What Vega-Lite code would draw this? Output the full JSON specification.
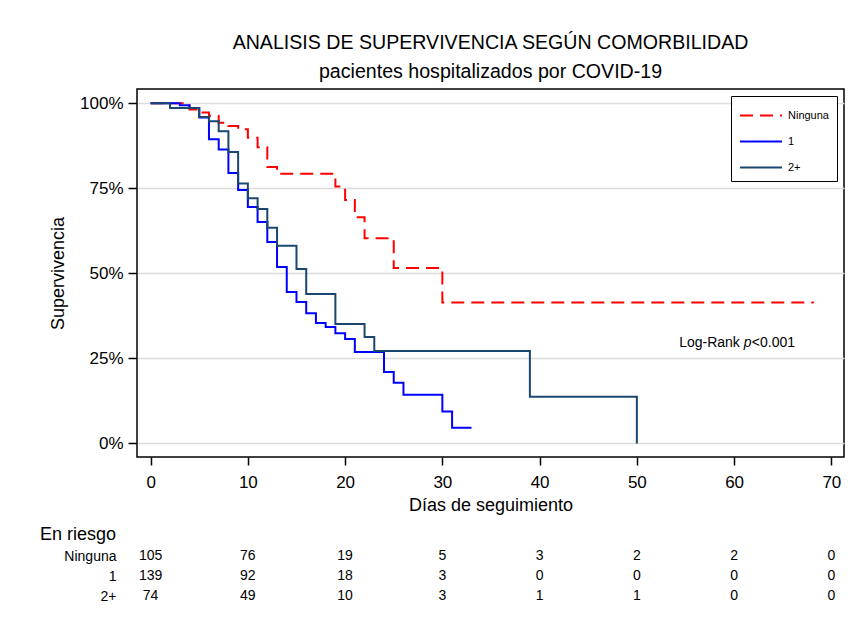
{
  "$schema": "https://vega.github.io/schema/vega-lite/v6.json",
  "background": "white",
  "padding": {"left": 40, "top": 32, "right": 5, "bottom": 5},
  "config": {
    "font": "Liberation Sans",
    "view": {"stroke": null},
    "axis": {"labelColor": "black", "titleColor": "black", "tickColor": "black", "domainColor": "black", "labelFont": "Liberation Sans", "titleFont": "Liberation Sans", "titleFontWeight": "normal"},
    "legend": {"labelFont": "Liberation Sans"}
  },
  "datasets": {
    "km": [
      {"group": "Ninguna", "day": 0, "surv": 1.0},
      {"group": "Ninguna", "day": 4, "surv": 0.982},
      {"group": "Ninguna", "day": 5, "surv": 0.973},
      {"group": "Ninguna", "day": 6, "surv": 0.963},
      {"group": "Ninguna", "day": 7, "surv": 0.943},
      {"group": "Ninguna", "day": 8, "surv": 0.933},
      {"group": "Ninguna", "day": 9, "surv": 0.924},
      {"group": "Ninguna", "day": 10, "surv": 0.899},
      {"group": "Ninguna", "day": 11, "surv": 0.871},
      {"group": "Ninguna", "day": 12, "surv": 0.813},
      {"group": "Ninguna", "day": 13, "surv": 0.793},
      {"group": "Ninguna", "day": 19, "surv": 0.755},
      {"group": "Ninguna", "day": 20, "surv": 0.716},
      {"group": "Ninguna", "day": 21, "surv": 0.665},
      {"group": "Ninguna", "day": 22, "surv": 0.603},
      {"group": "Ninguna", "day": 25, "surv": 0.516},
      {"group": "Ninguna", "day": 30, "surv": 0.414},
      {"group": "Ninguna", "day": 68.2, "surv": 0.414},
      {"group": "1", "day": 0, "surv": 1.0},
      {"group": "1", "day": 3, "surv": 0.994},
      {"group": "1", "day": 4, "surv": 0.986},
      {"group": "1", "day": 5, "surv": 0.958},
      {"group": "1", "day": 6, "surv": 0.894},
      {"group": "1", "day": 7, "surv": 0.864},
      {"group": "1", "day": 8, "surv": 0.795},
      {"group": "1", "day": 9, "surv": 0.745},
      {"group": "1", "day": 10, "surv": 0.695},
      {"group": "1", "day": 11, "surv": 0.651},
      {"group": "1", "day": 12, "surv": 0.592},
      {"group": "1", "day": 13, "surv": 0.519},
      {"group": "1", "day": 14, "surv": 0.445},
      {"group": "1", "day": 15, "surv": 0.416},
      {"group": "1", "day": 16, "surv": 0.383},
      {"group": "1", "day": 17, "surv": 0.354},
      {"group": "1", "day": 18, "surv": 0.342},
      {"group": "1", "day": 19, "surv": 0.324},
      {"group": "1", "day": 20, "surv": 0.307},
      {"group": "1", "day": 21, "surv": 0.269},
      {"group": "1", "day": 24, "surv": 0.21},
      {"group": "1", "day": 25, "surv": 0.178},
      {"group": "1", "day": 26, "surv": 0.143},
      {"group": "1", "day": 30, "surv": 0.094},
      {"group": "1", "day": 31, "surv": 0.046},
      {"group": "1", "day": 33, "surv": 0.046},
      {"group": "2+", "day": 0, "surv": 1.0},
      {"group": "2+", "day": 2, "surv": 0.986},
      {"group": "2+", "day": 5, "surv": 0.96},
      {"group": "2+", "day": 6, "surv": 0.947},
      {"group": "2+", "day": 7, "surv": 0.918},
      {"group": "2+", "day": 8, "surv": 0.857},
      {"group": "2+", "day": 9, "surv": 0.764},
      {"group": "2+", "day": 10, "surv": 0.721},
      {"group": "2+", "day": 11, "surv": 0.689},
      {"group": "2+", "day": 12, "surv": 0.634},
      {"group": "2+", "day": 13, "surv": 0.581},
      {"group": "2+", "day": 15, "surv": 0.513},
      {"group": "2+", "day": 16, "surv": 0.439},
      {"group": "2+", "day": 19, "surv": 0.351},
      {"group": "2+", "day": 22, "surv": 0.313},
      {"group": "2+", "day": 23, "surv": 0.272},
      {"group": "2+", "day": 39, "surv": 0.137},
      {"group": "2+", "day": 50, "surv": 0.0}
    ],
    "risk": [
      {"group": "Ninguna", "day": 0, "n": 105},
      {"group": "Ninguna", "day": 10, "n": 76},
      {"group": "Ninguna", "day": 20, "n": 19},
      {"group": "Ninguna", "day": 30, "n": 5},
      {"group": "Ninguna", "day": 40, "n": 3},
      {"group": "Ninguna", "day": 50, "n": 2},
      {"group": "Ninguna", "day": 60, "n": 2},
      {"group": "Ninguna", "day": 70, "n": 0},
      {"group": "1", "day": 0, "n": 139},
      {"group": "1", "day": 10, "n": 92},
      {"group": "1", "day": 20, "n": 18},
      {"group": "1", "day": 30, "n": 3},
      {"group": "1", "day": 40, "n": 0},
      {"group": "1", "day": 50, "n": 0},
      {"group": "1", "day": 60, "n": 0},
      {"group": "1", "day": 70, "n": 0},
      {"group": "2+", "day": 0, "n": 74},
      {"group": "2+", "day": 10, "n": 49},
      {"group": "2+", "day": 20, "n": 10},
      {"group": "2+", "day": 30, "n": 3},
      {"group": "2+", "day": 40, "n": 1},
      {"group": "2+", "day": 50, "n": 1},
      {"group": "2+", "day": 60, "n": 0},
      {"group": "2+", "day": 70, "n": 0}
    ],
    "note": [{"a": "Log-Rank", "p": "p", "b": "<0.001"}]
  },
  "spacing": 11,
  "vconcat": [
    {
      "width": 707,
      "height": 368,
      "title": {"text": "ANALISIS DE SUPERVIVENCIA SEGÚN COMORBILIDAD", "subtitle": "pacientes hospitalizados por COVID-19", "fontSize": 19.6, "fontWeight": "normal", "color": "black", "subtitleFontSize": 19.6, "subtitleColor": "black", "subtitleFont": "Liberation Sans", "anchor": "middle", "frame": "group", "offset": 6, "subtitlePadding": 10},
      "view": {"stroke": "black", "strokeWidth": 1.5},
      "layer": [
        {
          "data": {"name": "km"},
          "mark": {"type": "line", "interpolate": "step-after", "strokeWidth": 2, "clip": true},
          "encoding": {
            "x": {"field": "day", "type": "quantitative", "scale": {"domain": [-1.4, 71.3], "nice": false, "zero": false},
              "axis": {"values": [0, 10, 20, 30, 40, 50, 60, 70], "title": "Días de seguimiento", "titleFontSize": 18, "labelFontSize": 17, "tickSize": 8, "tickWidth": 1.5, "domain": false, "grid": false, "labelPadding": 9, "titlePadding": 6, "labelFlush": false}},
            "y": {"field": "surv", "type": "quantitative", "scale": {"domain": [-0.04, 1.042], "nice": false, "zero": false},
              "axis": {"values": [0, 0.25, 0.5, 0.75, 1], "format": ".0%", "title": "Supervivencia", "titleFontSize": 18, "labelFontSize": 17, "tickSize": 9, "tickWidth": 1.5, "domain": false, "grid": true, "gridColor": "#dcdcdc", "gridWidth": 1.5, "labelPadding": 5, "titlePadding": 12}},
            "color": {"field": "group", "type": "nominal", "scale": {"domain": ["Ninguna", "1", "2+"], "range": ["#ff0000", "#0000ff", "#1a476f"]},
              "legend": {"title": null, "orient": "top-right", "offset": 7, "padding": 8, "strokeColor": "black", "fillColor": "white", "symbolType": "M-1,0H3", "symbolSize": 441, "symbolStrokeWidth": 2, "labelFontSize": 11, "labelColor": "black", "rowPadding": 9, "labelOffset": 26}},
            "strokeDash": {"field": "group", "type": "nominal", "scale": {"domain": ["Ninguna", "1", "2+"], "range": [[13, 7], [1, 0], [1, 0]]},
              "legend": {"title": null, "orient": "top-right", "offset": 7, "padding": 8, "strokeColor": "black", "fillColor": "white", "symbolType": "M-1,0H3", "symbolSize": 441, "symbolStrokeWidth": 2, "labelFontSize": 11, "labelColor": "black", "rowPadding": 9, "labelOffset": 26}}
          }
        },
        {
          "data": {"name": "note"},
          "mark": {"type": "text", "align": "right", "baseline": "middle", "fontSize": 14, "color": "black", "dx": -4},
          "encoding": {"x": {"datum": 61.0}, "y": {"datum": 0.295}, "text": {"field": "a"}}
        },
        {
          "data": {"name": "note"},
          "mark": {"type": "text", "align": "left", "baseline": "middle", "fontSize": 14, "fontStyle": "italic", "color": "black"},
          "encoding": {"x": {"datum": 61.0}, "y": {"datum": 0.295}, "text": {"field": "p"}}
        },
        {
          "data": {"name": "note"},
          "mark": {"type": "text", "align": "left", "baseline": "middle", "fontSize": 14, "color": "black", "dx": 8},
          "encoding": {"x": {"datum": 61.0}, "y": {"datum": 0.295}, "text": {"field": "b"}}
        }
      ]
    },
    {
      "width": 707,
      "height": 60,
      "title": {"text": "En riesgo", "anchor": "start", "frame": "group", "dx": -97, "fontSize": 18, "fontWeight": "normal", "color": "black", "offset": 2},
      "data": {"name": "risk"},
      "mark": {"type": "text", "fontSize": 14, "color": "black", "baseline": "middle"},
      "encoding": {
        "x": {"field": "day", "type": "quantitative", "scale": {"domain": [-1.4, 71.3], "nice": false, "zero": false}, "axis": null},
        "y": {"field": "group", "type": "nominal", "sort": ["Ninguna", "1", "2+"], "scale": {"paddingInner": 0, "paddingOuter": 0},
          "axis": {"title": null, "domain": false, "ticks": false, "labelPadding": 21, "labelFontSize": 14, "labelColor": "black"}},
        "text": {"field": "n", "type": "quantitative"}
      }
    }
  ]
}
